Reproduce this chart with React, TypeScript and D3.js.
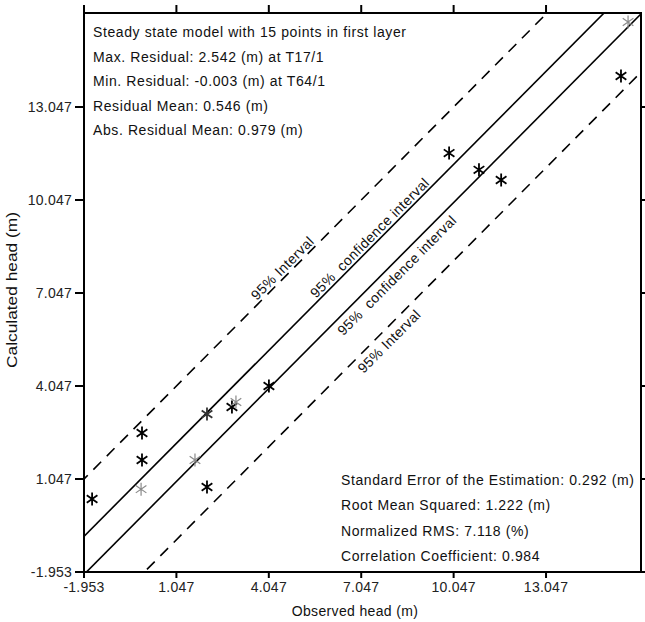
import React from "react";
import * as d3 from "d3";

const tickValues = [-1.953, 1.047, 4.047, 7.047, 10.047, 13.047];
const observedHead = [-1.69, -0.07, -0.07, -0.1, 1.65, 2.04, 2.04, 2.85, 2.98, 4.05, 9.9, 10.87, 11.59, 15.48, 15.71];
const calculatedHead = [0.4, 2.53, 1.66, 0.72, 1.66, 0.79, 3.14, 3.37, 3.53, 4.05, 11.56, 11.02, 10.69, 14.05, 15.79];
const pointTone = ["dark", "dark", "dark", "light", "light", "dark", "mid", "dark", "light", "dark", "dark", "dark", "dark", "dark", "light"];

// band lines: y = x + offset
const bandNames = ["95% Interval", "95%  confidence interval", "95%  confidence interval", "95% Interval"];
const bandOffsets = [3.0, 1.15, -0.08, -1.96];
const bandDashed = [true, false, false, true];
const bandLabelAt = [4.67, 7.5, 7.95, 7.7];
const bandLabelSide = ["above", "above", "below", "below"];

const topNotes = [
  "Steady state model with 15 points in first layer",
  "Max. Residual: 2.542 (m) at T17/1",
  "Min. Residual: -0.003 (m) at T64/1",
  "Residual Mean: 0.546 (m)",
  "Abs. Residual Mean: 0.979 (m)",
];
const bottomNotes = [
  "Standard Error of the Estimation: 0.292 (m)",
  "Root Mean Squared: 1.222 (m)",
  "Normalized RMS: 7.118 (%)",
  "Correlation Coefficient: 0.984",
];

const W = 645;
const H = 622;
const L = 84, R = 641, T = 13, B = 572;
const FONT = "'Liberation Sans', Arial, sans-serif";

export default function App() {
  const x = d3.scaleLinear().domain([-1.953, 16.13]).range([L, R]);
  const y = d3.scaleLinear().domain([-1.953, 16.08]).range([B, T]);
  const [x0, x1] = x.domain();
  const angle = (Math.atan2(y(1) - y(0), x(1) - x(0)) * 180) / Math.PI;
  const line = d3.line<[number, number]>().x((d) => x(d[0])).y((d) => y(d[1]));

  const toneColor: Record<string, string> = { dark: "#000", mid: "#333", light: "#8a8a8a" };

  const star = (cx: number, cy: number, r: number) => {
    const a = (35 * Math.PI) / 180;
    const dx = r * Math.cos(a), dy = r * Math.sin(a);
    return `M${cx},${cy - r}L${cx},${cy + r}M${cx - dx},${cy - dy}L${cx + dx},${cy + dy}M${cx - dx},${cy + dy}L${cx + dx},${cy - dy}`;
  };

  return (
    <svg width={W} height={H} style={{ position: "absolute", left: 0, top: 0, background: "#fff" }} fontFamily={FONT}>
      <defs>
        <clipPath id="plotclip">
          <rect x={L} y={T} width={R - L} height={B - T} />
        </clipPath>
      </defs>
      <rect x={0} y={0} width={W} height={H} fill="#fff" />

      {/* band lines */}
      <g clipPath="url(#plotclip)">
        {bandOffsets.map((off, i) => (
          <path
            key={i}
            d={line([[x0 - 1, x0 - 1 + off], [x1 + 1, x1 + 1 + off]]) || ""}
            fill="none"
            stroke="#000"
            strokeWidth={1.6}
            strokeDasharray={bandDashed[i] ? "11,8" : undefined}
          />
        ))}
      </g>

      {/* band labels */}
      {bandNames.map((name, i) => {
        const px = x(bandLabelAt[i]);
        const py = y(bandLabelAt[i] + bandOffsets[i]);
        return (
          <text
            key={i}
            transform={`translate(${px},${py}) rotate(${angle})`}
            textAnchor="middle"
            dy={bandLabelSide[i] === "above" ? -3 : 16}
            fontSize={14}
            letterSpacing={0.4}
            fill="#111"
            style={{ whiteSpace: "pre" }}
          >
            {name}
          </text>
        );
      })}

      {/* points */}
      {observedHead.map((ox, i) => (
        <path
          key={i}
          d={star(x(ox), y(calculatedHead[i]), 6.5)}
          stroke={toneColor[pointTone[i]]}
          strokeWidth={pointTone[i] === "light" ? 1.2 : 1.8}
          fill="none"
        />
      ))}

      {/* frame */}
      <rect x={L} y={T} width={R - L} height={B - T} fill="none" stroke="#000" strokeWidth={2} />

      {/* x ticks bottom and top */}
      {tickValues.map((v) => (
        <g key={"x" + v}>
          <line x1={x(v)} x2={x(v)} y1={B} y2={B + 6} stroke="#000" strokeWidth={2} />
          <line x1={x(v)} x2={x(v)} y1={T} y2={T - 8} stroke="#000" strokeWidth={2} />
          <text x={x(v)} y={592} textAnchor="middle" fontSize={14} letterSpacing={0.25} fill="#222">
            {v.toFixed(3)}
          </text>
        </g>
      ))}

      {/* y ticks left and right */}
      {tickValues.map((v) => (
        <g key={"y" + v}>
          <line x1={L} x2={L - 9} y1={y(v)} y2={y(v)} stroke="#000" strokeWidth={2} />
          <line x1={R} x2={R + 8} y1={y(v)} y2={y(v)} stroke="#000" strokeWidth={2} />
          <text x={72} y={y(v) + 4.5} textAnchor="end" fontSize={14} letterSpacing={0.25} fill="#222">
            {v.toFixed(3)}
          </text>
        </g>
      ))}

      {/* axis titles */}
      <text x={355} y={616} textAnchor="middle" fontSize={14} letterSpacing={0.35} fill="#111">
        Observed head (m)
      </text>
      <text
        transform={`translate(17,290) rotate(-90)`}
        textAnchor="middle"
        fontSize={14}
        textLength={156}
        lengthAdjust="spacingAndGlyphs"
        fill="#111"
      >
        Calculated head (m)
      </text>

      {/* notes */}
      {topNotes.map((t, i) => (
        <text key={"t" + i} x={93} y={37 + i * 24.5} fontSize={14} letterSpacing={0.6} fill="#111">
          {t}
        </text>
      ))}
      {bottomNotes.map((t, i) => (
        <text key={"b" + i} x={341} y={485 + i * 25.3} fontSize={14} letterSpacing={0.6} fill="#111">
          {t}
        </text>
      ))}
    </svg>
  );
}
